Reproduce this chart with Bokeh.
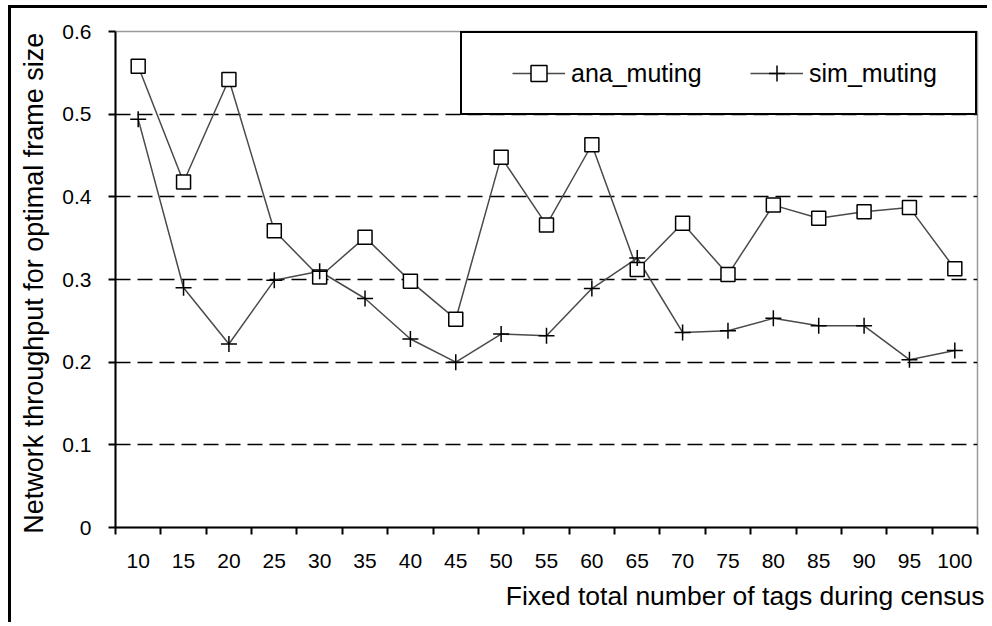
from bokeh.plotting import figure
from bokeh.models import FixedTicker, Legend, LegendItem, Title, Range1d
from bokeh.embed import file_html
from bokeh.resources import INLINE

# ---- data ----
tags = [10, 15, 20, 25, 30, 35, 40, 45, 50, 55, 60, 65, 70, 75, 80, 85, 90, 95, 100]
ana_muting = [0.558, 0.418, 0.542, 0.359, 0.303, 0.351, 0.298, 0.252, 0.448, 0.366,
              0.463, 0.312, 0.368, 0.306, 0.390, 0.374, 0.382, 0.387, 0.313]
sim_muting = [0.494, 0.290, 0.222, 0.299, 0.310, 0.277, 0.228, 0.200, 0.234, 0.232,
              0.289, 0.326, 0.236, 0.238, 0.253, 0.244, 0.244, 0.203, 0.214]
y_ticks = [0, 0.1, 0.2, 0.3, 0.4, 0.5, 0.6]
y_tick_labels = ["0", "0.1", "0.2", "0.3", "0.4", "0.5", "0.6"]
series_names = ["ana_muting", "sim_muting"]
x_label = "Fixed total number of tags during census"
y_label = "Network  throughput for optimal frame size"

FONT = "Liberation Sans"
half_step = (tags[1] - tags[0]) / 2
boundaries = [t - half_step for t in tags] + [tags[-1] + half_step]

p = figure(frame_width=862, frame_height=496,
           x_range=Range1d(boundaries[0], boundaries[-1]),
           y_range=Range1d(y_ticks[0], y_ticks[-1]),
           output_backend="svg", toolbar_location=None,
           min_border_left=104, min_border_right=10, min_border_top=23, min_border_bottom=95,
           background_fill_color="white", border_fill_color="white",
           outline_line_color="#9a9a9a", outline_line_width=1.5)
p.styles = {"margin-left": "8px", "margin-top": "5px",
            "border-left": "3px solid black", "border-top": "3px solid black"}

# x axis: labels at the category centres, ticks at the boundaries
xa = p.xaxis[0]
xa.ticker = FixedTicker(ticks=tags, minor_ticks=boundaries)
xa.major_tick_out = 0
xa.major_tick_in = 0
xa.major_tick_line_color = None
xa.minor_tick_out = 7
xa.minor_tick_in = 0
xa.minor_tick_line_color = "black"
xa.minor_tick_line_width = 2
xa.axis_line_color = "black"
xa.axis_line_width = 2
xa.major_label_standoff = 19
xa.major_label_text_font = FONT
xa.major_label_text_font_size = "21px"
xa.major_label_text_color = "black"

# y axis
ya = p.yaxis[0]
ya.ticker = FixedTicker(ticks=y_ticks, minor_ticks=[])
ya.major_label_overrides = {t: s for t, s in zip(y_ticks, y_tick_labels)}
ya.major_tick_out = 7
ya.major_tick_in = 0
ya.major_tick_line_color = "black"
ya.major_tick_line_width = 2
ya.minor_tick_line_color = None
ya.axis_line_color = "black"
ya.axis_line_width = 2
ya.major_label_standoff = 17
ya.major_label_text_font = FONT
ya.major_label_text_font_size = "21px"
ya.major_label_text_color = "black"
ya.axis_label = y_label
ya.axis_label_standoff = 10
ya.axis_label_text_font = FONT
ya.axis_label_text_font_size = "27px"
ya.axis_label_text_font_style = "normal"
ya.axis_label_text_color = "black"

# grid
p.xgrid.visible = False
p.ygrid.ticker = FixedTicker(ticks=y_ticks[1:-1])
p.ygrid.grid_line_color = "black"
p.ygrid.grid_line_dash = "15 7"
p.ygrid.grid_line_width = 1.5

# series
l1 = p.line(tags, ana_muting, line_color="#4a4a4a", line_width=1.5)
l2 = p.line(tags, sim_muting, line_color="#4a4a4a", line_width=1.5)
s1 = p.scatter(tags, ana_muting, marker="square", size=14, fill_color="white",
               line_color="black", line_width=1.5)
s2 = p.scatter(tags, sim_muting, marker="cross", size=16, line_color="black", line_width=1.5)

legend = Legend(items=[LegendItem(label=series_names[0], renderers=[l1, s1]),
                       LegendItem(label=series_names[1], renderers=[l2, s2])],
                location="top_right", orientation="horizontal", margin=0, padding=20,
                spacing=33, glyph_width=53, glyph_height=40, label_width=146,
                label_standoff=6, label_text_font=FONT, label_text_font_size="25px",
                label_text_color="black", border_line_color="black", border_line_width=2,
                border_line_alpha=1.0,
                background_fill_color="white", background_fill_alpha=1.0,
                title=" ", title_location="left", title_standoff=19,
                title_text_font_size="10px")
p.add_layout(legend)

t = Title(text=x_label, align="right", text_font=FONT, text_font_size="26.5px",
          text_font_style="normal", text_color="black", offset=-7, standoff=17)
p.add_layout(t, "below")

open("out.html", "w").write(file_html(p, INLINE))
